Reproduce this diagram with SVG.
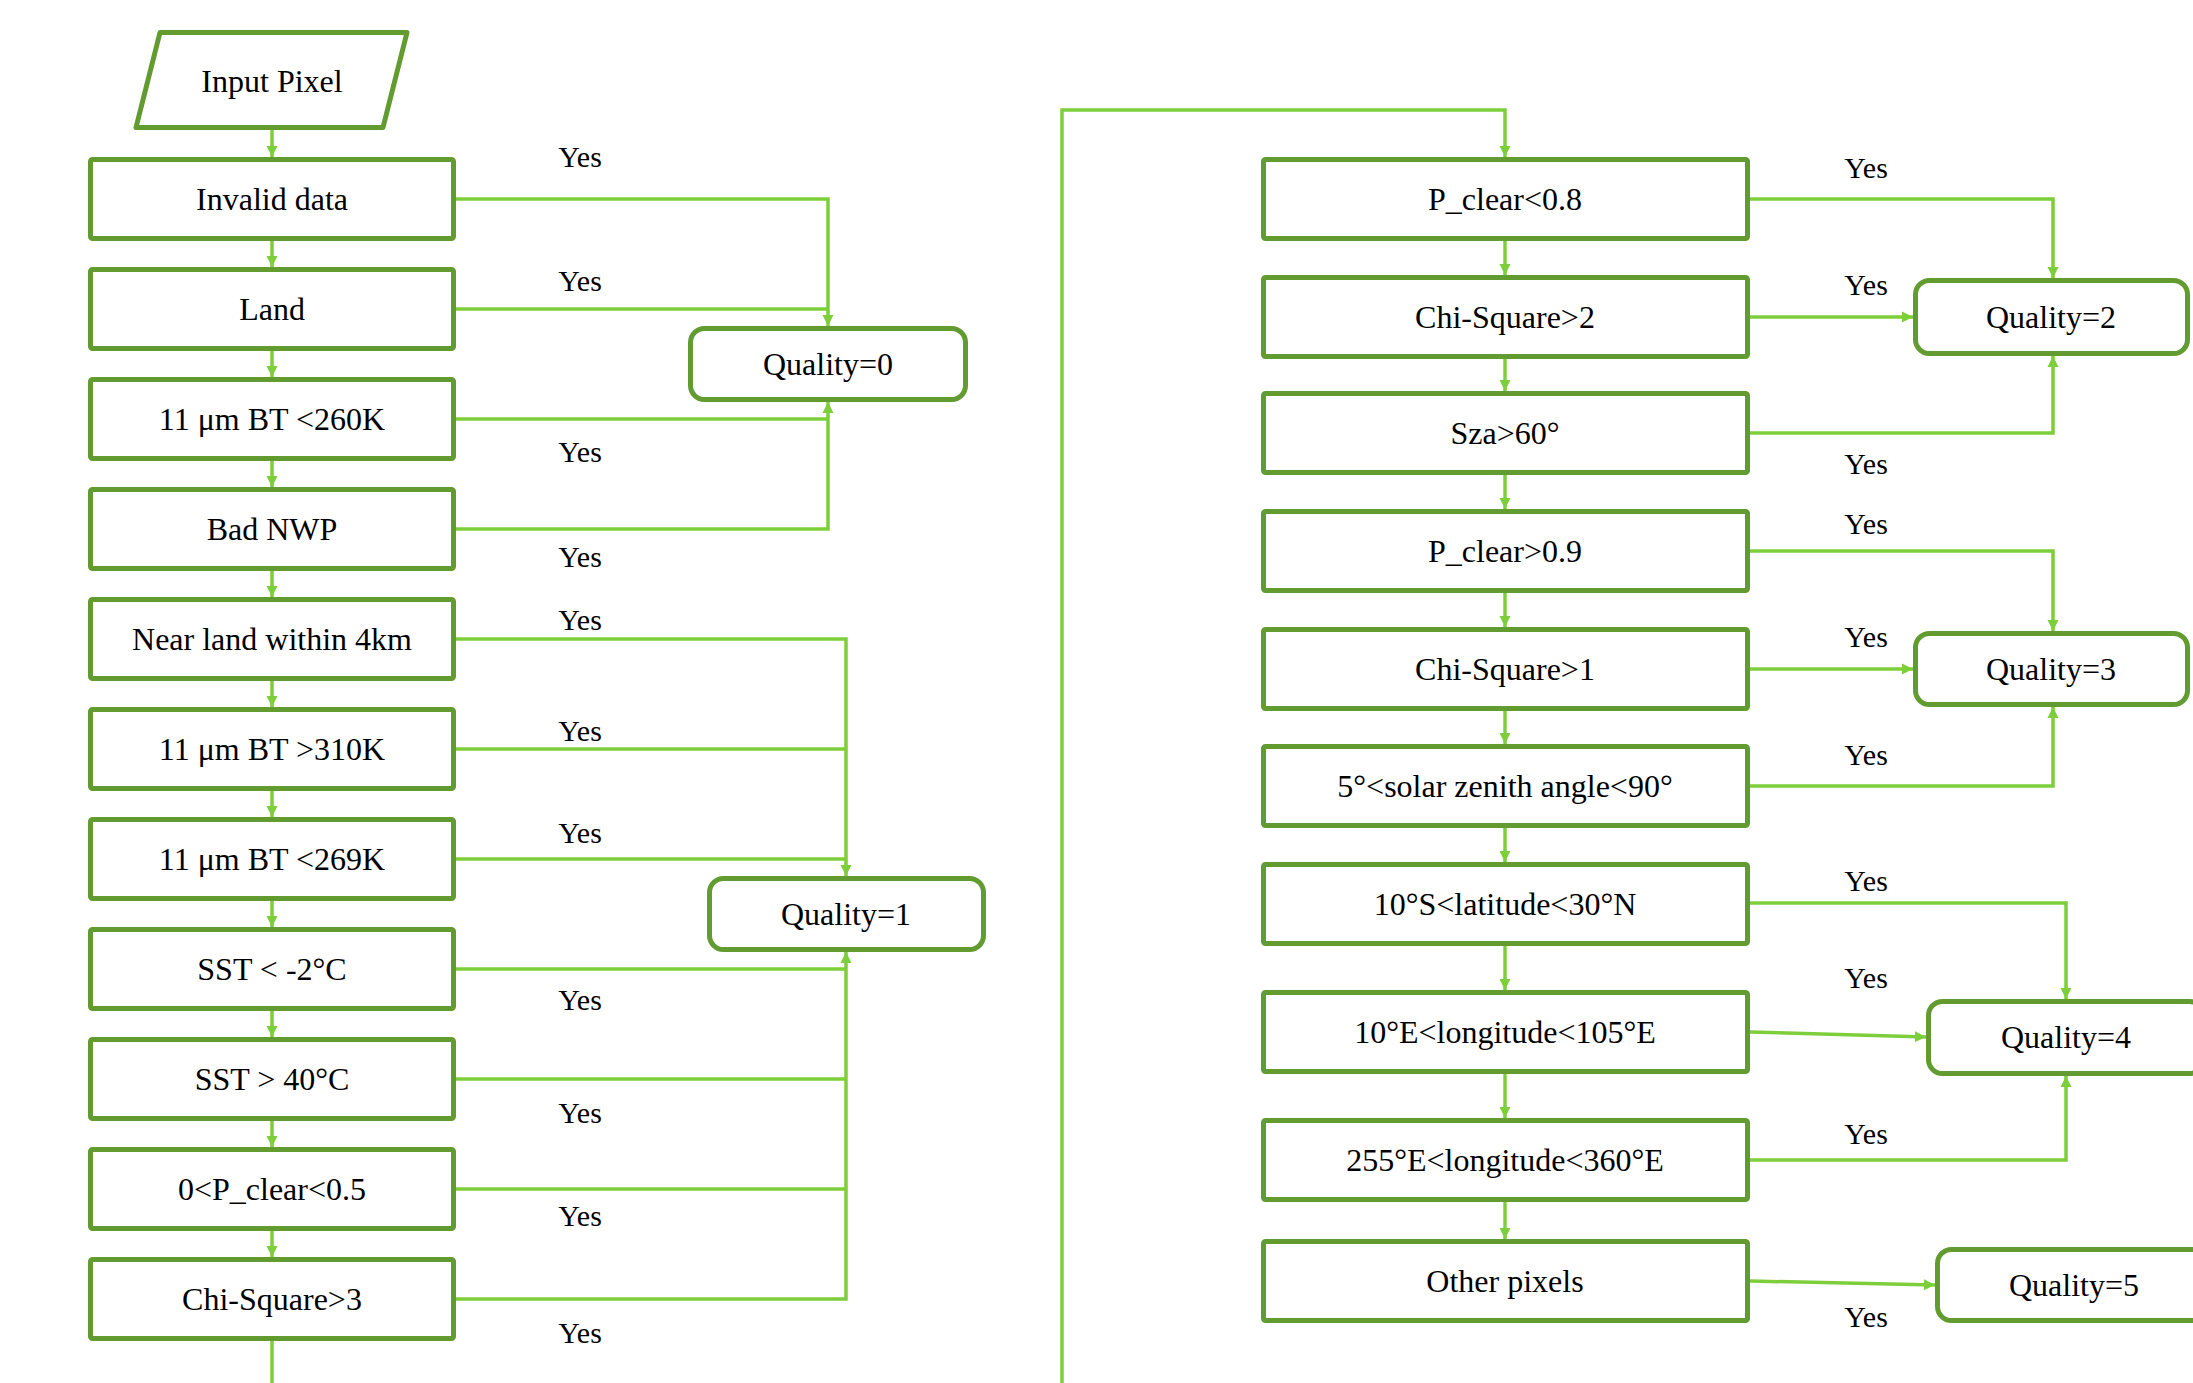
<svg xmlns="http://www.w3.org/2000/svg" width="2193" height="1383" viewBox="0 0 2193 1383">
<defs>
<style>
.box{fill:#fff;stroke:#629B2F;stroke-width:5;stroke-linejoin:round}
.t{font-family:"Liberation Serif","Times New Roman",serif;font-size:32px;fill:#000;text-anchor:middle}
.y{font-family:"Liberation Serif","Times New Roman",serif;font-size:30px;fill:#000;text-anchor:middle}
.c{fill:none;stroke:#7CCF3A;stroke-width:3.5}
.a{marker-end:url(#arr)}
</style>
<marker id="arr" markerUnits="userSpaceOnUse" markerWidth="12" markerHeight="12" refX="11" refY="6" orient="auto">
<path d="M0,0.5 L11,6 L0,11.5 z" fill="#7CCF3A"/>
</marker>
</defs>
<rect width="2193" height="1383" fill="#fff"/>

<g id="connectors">
<!-- left column vertical flow -->
<path class="c a" d="M272,130 V157"/>
<path class="c a" d="M272,241 V267"/>
<path class="c a" d="M272,351 V377"/>
<path class="c a" d="M272,461 V487"/>
<path class="c a" d="M272,571 V597"/>
<path class="c a" d="M272,681 V707"/>
<path class="c a" d="M272,791 V817"/>
<path class="c a" d="M272,901 V927"/>
<path class="c a" d="M272,1011 V1037"/>
<path class="c a" d="M272,1121 V1147"/>
<path class="c a" d="M272,1231 V1257"/>
<path class="c" d="M272,1341 V1390"/>
<!-- loop to right column -->
<path class="c a" d="M1062,1390 V110 H1505 V157"/>
<!-- right column vertical flow -->
<path class="c a" d="M1505,241 V275"/>
<path class="c a" d="M1505,359 V391"/>
<path class="c a" d="M1505,475 V509"/>
<path class="c a" d="M1505,593 V627"/>
<path class="c a" d="M1505,711 V744"/>
<path class="c a" d="M1505,828 V862"/>
<path class="c a" d="M1505,946 V990"/>
<path class="c a" d="M1505,1074 V1118"/>
<path class="c a" d="M1505,1202 V1239"/>
<!-- Quality=0 -->
<path class="c a" d="M456,199 H828 V326"/>
<path class="c" d="M456,309 H828"/>
<path class="c" d="M456,419 H828"/>
<path class="c a" d="M456,529 H828 V402"/>
<!-- Quality=1 -->
<path class="c a" d="M456,639 H846 V876"/>
<path class="c" d="M456,749 H846"/>
<path class="c" d="M456,859 H846"/>
<path class="c" d="M456,969 H846"/>
<path class="c" d="M456,1079 H846"/>
<path class="c" d="M456,1189 H846"/>
<path class="c a" d="M456,1299 H846 V952"/>
<!-- Quality=2 -->
<path class="c a" d="M1750,199 H2053 V278"/>
<path class="c a" d="M1750,317 H1913"/>
<path class="c a" d="M1750,433 H2053 V356"/>
<!-- Quality=3 -->
<path class="c a" d="M1750,551 H2053 V631"/>
<path class="c a" d="M1750,669 H1913"/>
<path class="c a" d="M1750,786 H2053 V707"/>
<!-- Quality=4 -->
<path class="c a" d="M1750,903 H2066 V999"/>
<path class="c a" d="M1750,1032 L1926,1037"/>
<path class="c a" d="M1750,1160 H2066 V1076"/>
<!-- Quality=5 -->
<path class="c a" d="M1750,1281 L1935,1285"/>
</g>

<g id="yes-labels">
<text class="y" x="580" y="167">Yes</text>
<text class="y" x="580" y="291">Yes</text>
<text class="y" x="580" y="462">Yes</text>
<text class="y" x="580" y="567">Yes</text>
<text class="y" x="580" y="630">Yes</text>
<text class="y" x="580" y="741">Yes</text>
<text class="y" x="580" y="843">Yes</text>
<text class="y" x="580" y="1010">Yes</text>
<text class="y" x="580" y="1123">Yes</text>
<text class="y" x="580" y="1226">Yes</text>
<text class="y" x="580" y="1343">Yes</text>
<text class="y" x="1866" y="178">Yes</text>
<text class="y" x="1866" y="295">Yes</text>
<text class="y" x="1866" y="474">Yes</text>
<text class="y" x="1866" y="534">Yes</text>
<text class="y" x="1866" y="647">Yes</text>
<text class="y" x="1866" y="765">Yes</text>
<text class="y" x="1866" y="891">Yes</text>
<text class="y" x="1866" y="988">Yes</text>
<text class="y" x="1866" y="1144">Yes</text>
<text class="y" x="1866" y="1327">Yes</text>
</g>

<g id="input-pixel">
<polygon class="box" points="160,32.5 407,32.5 383,127.5 136,127.5"/>
<text class="t" x="272" y="92">Input Pixel</text>
</g>

<g id="invalid-data"><rect class="box" x="90.5" y="159.5" width="363" height="79" rx="2"/><text class="t" x="272" y="210">Invalid data</text></g>
<g id="land"><rect class="box" x="90.5" y="269.5" width="363" height="79" rx="2"/><text class="t" x="272" y="320">Land</text></g>
<g id="bt260"><rect class="box" x="90.5" y="379.5" width="363" height="79" rx="2"/><text class="t" x="272" y="430">11 μm BT &lt;260K</text></g>
<g id="bad-nwp"><rect class="box" x="90.5" y="489.5" width="363" height="79" rx="2"/><text class="t" x="272" y="540">Bad NWP</text></g>
<g id="near-land"><rect class="box" x="90.5" y="599.5" width="363" height="79" rx="2"/><text class="t" x="272" y="650">Near land within 4km</text></g>
<g id="bt310"><rect class="box" x="90.5" y="709.5" width="363" height="79" rx="2"/><text class="t" x="272" y="760">11 μm BT &gt;310K</text></g>
<g id="bt269"><rect class="box" x="90.5" y="819.5" width="363" height="79" rx="2"/><text class="t" x="272" y="870">11 μm BT &lt;269K</text></g>
<g id="sst-low"><rect class="box" x="90.5" y="929.5" width="363" height="79" rx="2"/><text class="t" x="272" y="980">SST &lt; -2°C</text></g>
<g id="sst-high"><rect class="box" x="90.5" y="1039.5" width="363" height="79" rx="2"/><text class="t" x="272" y="1090">SST &gt; 40°C</text></g>
<g id="pclear05"><rect class="box" x="90.5" y="1149.5" width="363" height="79" rx="2"/><text class="t" x="272" y="1200">0&lt;P_clear&lt;0.5</text></g>
<g id="chi3"><rect class="box" x="90.5" y="1259.5" width="363" height="79" rx="2"/><text class="t" x="272" y="1310">Chi-Square&gt;3</text></g>

<g id="quality0"><rect class="box" x="690.5" y="328.5" width="275" height="71" rx="14"/><text class="t" x="828" y="375">Quality=0</text></g>
<g id="quality1"><rect class="box" x="709.5" y="878.5" width="274" height="71" rx="14"/><text class="t" x="846" y="925">Quality=1</text></g>

<g id="pclear08"><rect class="box" x="1263.5" y="159.5" width="484" height="79" rx="2"/><text class="t" x="1505" y="210">P_clear&lt;0.8</text></g>
<g id="chi2"><rect class="box" x="1263.5" y="277.5" width="484" height="79" rx="2"/><text class="t" x="1505" y="328">Chi-Square&gt;2</text></g>
<g id="sza"><rect class="box" x="1263.5" y="393.5" width="484" height="79" rx="2"/><text class="t" x="1505" y="444">Sza&gt;60°</text></g>
<g id="pclear09"><rect class="box" x="1263.5" y="511.5" width="484" height="79" rx="2"/><text class="t" x="1505" y="562">P_clear&gt;0.9</text></g>
<g id="chi1"><rect class="box" x="1263.5" y="629.5" width="484" height="79" rx="2"/><text class="t" x="1505" y="680">Chi-Square&gt;1</text></g>
<g id="solar-zenith"><rect class="box" x="1263.5" y="746.5" width="484" height="79" rx="2"/><text class="t" x="1505" y="797">5°&lt;solar zenith angle&lt;90°</text></g>
<g id="latitude"><rect class="box" x="1263.5" y="864.5" width="484" height="79" rx="2"/><text class="t" x="1505" y="915">10°S&lt;latitude&lt;30°N</text></g>
<g id="longitude1"><rect class="box" x="1263.5" y="992.5" width="484" height="79" rx="2"/><text class="t" x="1505" y="1043">10°E&lt;longitude&lt;105°E</text></g>
<g id="longitude2"><rect class="box" x="1263.5" y="1120.5" width="484" height="79" rx="2"/><text class="t" x="1505" y="1171">255°E&lt;longitude&lt;360°E</text></g>
<g id="other"><rect class="box" x="1263.5" y="1241.5" width="484" height="79" rx="2"/><text class="t" x="1505" y="1292">Other pixels</text></g>

<g id="quality2"><rect class="box" x="1915.5" y="280.5" width="272" height="73" rx="14"/><text class="t" x="2051" y="328">Quality=2</text></g>
<g id="quality3"><rect class="box" x="1915.5" y="633.5" width="272" height="71" rx="14"/><text class="t" x="2051" y="680">Quality=3</text></g>
<g id="quality4"><rect class="box" x="1928.5" y="1001.5" width="275" height="72" rx="14"/><text class="t" x="2066" y="1048">Quality=4</text></g>
<g id="quality5"><rect class="box" x="1937.5" y="1249.5" width="273" height="71" rx="14"/><text class="t" x="2074" y="1296">Quality=5</text></g>
</svg>
